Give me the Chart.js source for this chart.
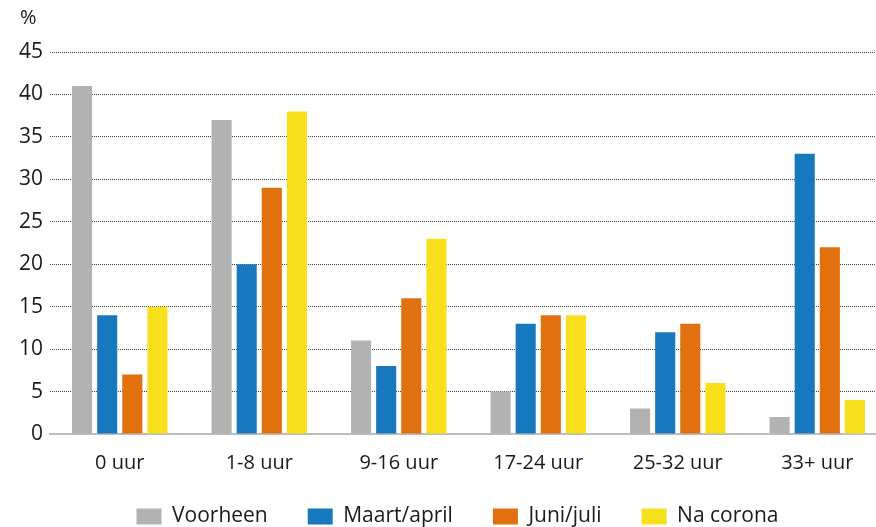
<!DOCTYPE html>
<html>
<head>
<meta charset="utf-8">
<script src="https://cdn.jsdelivr.net/npm/chart.js@4"></script>
<style>
    html, body { margin: 0; padding: 0; background: #fff; overflow: hidden; }
    #clip { width: 876px; height: 527px; overflow: hidden; position: relative; }
    #wrap { width: 900px; height: 527px; position: relative; }
</style>
</head>
<body>
<div id="clip"><div id="wrap"><canvas id="chart"></canvas></div></div>
<script>
const categories = ["0 uur", "1-8 uur", "9-16 uur", "17-24 uur", "25-32 uur", "33+ uur"];
const seriesNames = ["Voorheen", "Maart/april", "Juni/juli", "Na corona"];
const voorheen = [41, 37, 11, 5, 3, 2];
const maartApril = [14, 20, 8, 13, 12, 33];
const juniJuli = [7, 29, 16, 14, 13, 22];
const naCorona = [15, 38, 23, 14, 6, 4];
const yTicks = [0, 5, 10, 15, 20, 25, 30, 35, 40, 45];

const COLORS = ["#b2b2b2", "#1878be", "#e1700e", "#f8e01c"];
const FONT = "'Open Sans', 'Noto Sans', sans-serif";
const TEXT_COLOR = "#1a1a1a";
const AXIS_BOTTOM = 434;

// "%" above the y axis
const unitLabel = {
    id: "unitLabel",
    afterDraw(chart) {
        const ctx = chart.ctx;
        ctx.save();
        ctx.font = `20px ${FONT}`;
        ctx.fillStyle = TEXT_COLOR;
        ctx.textAlign = "left";
        ctx.textBaseline = "middle";
        ctx.fillText("%", 20, 18);
        ctx.restore();
    }
};

// nudge the legend so it sits where the original has it,
// and let the x labels draw below the legend box top
const placeLegend = {
    id: "placeLegend",
    afterLayout(chart) {
        const legend = chart.legend;
        if (legend) {
            legend.left += 14;
            legend.right += 14;
            legend.top += 10;
            legend.bottom += 10;
        }
        const x = chart.scales.x;
        x.bottom = chart.height;
        x.height = x.bottom - x.top;
    }
};

const allValues = [voorheen, maartApril, juniJuli, naCorona];

new Chart(document.getElementById("chart"), {
    type: "bar",
    data: {
        labels: categories,
        datasets: seriesNames.map((name, i) => ({
            label: name,
            data: allValues[i],
            backgroundColor: COLORS[i],
            borderWidth: 0,
            categoryPercentage: 0.72,
            barPercentage: 0.8
        }))
    },
    options: {
        responsive: true,
        maintainAspectRatio: false,
        animation: false,
        layout: { padding: { top: 52, right: 13, left: 0, bottom: 0 } },
        plugins: {
            tooltip: { enabled: false },
            legend: {
                position: "bottom",
                labels: {
                    boxWidth: 25,
                    boxHeight: 16,
                    padding: 40,
                    color: TEXT_COLOR,
                    font: { family: FONT, size: 21 }
                }
            }
        },
        scales: {
            x: {
                afterFit(scale) {
                    const legendHeight = scale.chart.legend ? scale.chart.legend.height : 0;
                    scale.height = scale.chart.height - AXIS_BOTTOM - legendHeight;
                },
                grid: { display: false, drawTicks: false },
                border: { display: true, color: "#bdbdbd", width: 2 },
                ticks: {
                    color: TEXT_COLOR,
                    padding: 17,
                    font: { family: FONT, size: 20 }
                }
            },
            y: {
                min: 0,
                max: 45,
                afterBuildTicks(scale) {
                    scale.ticks = yTicks.map((v) => ({ value: v }));
                },
                afterFit(scale) {
                    scale.width = 50;
                },
                border: { display: false, dash: [1, 1] },
                grid: {
                    color: (c) => (c.tick && c.tick.value === 0 ? "rgba(0,0,0,0)" : "#444"),
                    lineWidth: 1,
                    drawTicks: false
                },
                ticks: {
                    color: TEXT_COLOR,
                    padding: 7,
                    font: { family: FONT, size: 21 }
                }
            }
        }
    },
    plugins: [unitLabel, placeLegend]
});
</script>
</body>
</html>
